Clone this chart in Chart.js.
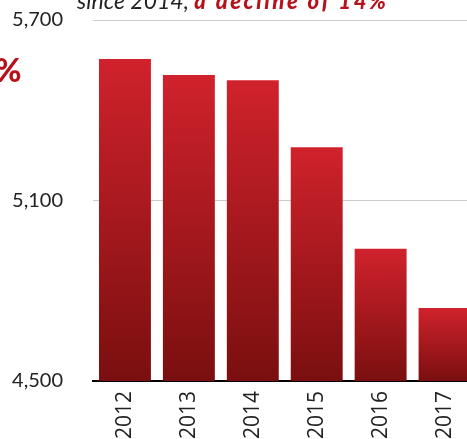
<!DOCTYPE html>
<html>
<head>
<meta charset="utf-8">
<script src="https://cdn.jsdelivr.net/npm/chart.js@4"></script>
<style>
  html, body { margin: 0; padding: 0; overflow: hidden; background: #fff; }
  #wrap { position: relative; width: 467px; height: 439px; overflow: hidden; }
  #box { position: absolute; left: 0; top: 0; width: 480px; height: 439px; }
  .title { position: absolute; left: 77px; top: -14px; font: italic 23px Lato, sans-serif; color: #222; white-space: nowrap; }
  .title b { color: #b5121b; font: 900 italic 22px Lato, sans-serif; letter-spacing: 2.6px; }
  .pct { position: absolute; left: -5px; top: 50px; font: 900 32px Lato, sans-serif; color: #b5121b; }
</style>
</head>
<body>
<div id="wrap">
  <div id="box"><canvas id="myChart_cases"></canvas></div>
  <div class="title">since 2014, <b>a decline of 14%</b></div>
  <div class="pct">%</div>
</div>
<script>
const years = ['2012', '2013', '2014', '2015', '2016', '2017'];
const counts = [5570, 5517, 5500, 5277, 4940, 4743];
const yTicks = [4500, 5100, 5700];

const barFill = (c) => {
  const chart = c.chart;
  if (!chart.chartArea) return '#c0202a';
  const y = chart.scales.y;
  const top = y.getPixelForValue(c.raw);
  const bottom = y.getPixelForValue(yTicks[0]);
  const g = chart.ctx.createLinearGradient(0, top, 0, bottom);
  g.addColorStop(0, '#d0222c');
  g.addColorStop(1, '#7a0f0f');
  return g;
};

new Chart(document.getElementById('myChart_cases'), {
  type: 'bar',
  data: {
    labels: years,
    datasets: [{
      data: counts,
      backgroundColor: barFill,
      barPercentage: 0.8125,
      categoryPercentage: 1
    }]
  },
  options: {
    responsive: true,
    maintainAspectRatio: false,
    animation: false,
    layout: { padding: { top: 20, right: 3, left: 0, bottom: 0 } },
    plugins: { legend: { display: false }, tooltip: { enabled: false } },
    scales: {
      x: {
        grid: { display: false, drawTicks: false },
        border: { color: '#000', width: 2 },
        ticks: {
          minRotation: 90, maxRotation: 90, padding: 10,
          color: '#222', font: { family: 'Open Sans', size: 21 }
        },
        afterFit: (s) => { s.height = 58; }
      },
      y: {
        min: yTicks[0],
        max: yTicks[yTicks.length - 1],
        afterBuildTicks: (s) => { s.ticks = yTicks.map(v => ({ value: v })); },
        grid: { color: '#cccccc', lineWidth: 1, drawTicks: false },
        border: { display: false },
        ticks: {
          padding: 30,
          color: '#222',
          font: { family: 'Lato', size: 20 },
          callback: (v) => v.toLocaleString('en-US')
        },
        afterFit: (s) => { s.width = 93; s.paddingTop = 0; s.paddingBottom = 0; }
      }
    }
  }
});
</script>
</body>
</html>
